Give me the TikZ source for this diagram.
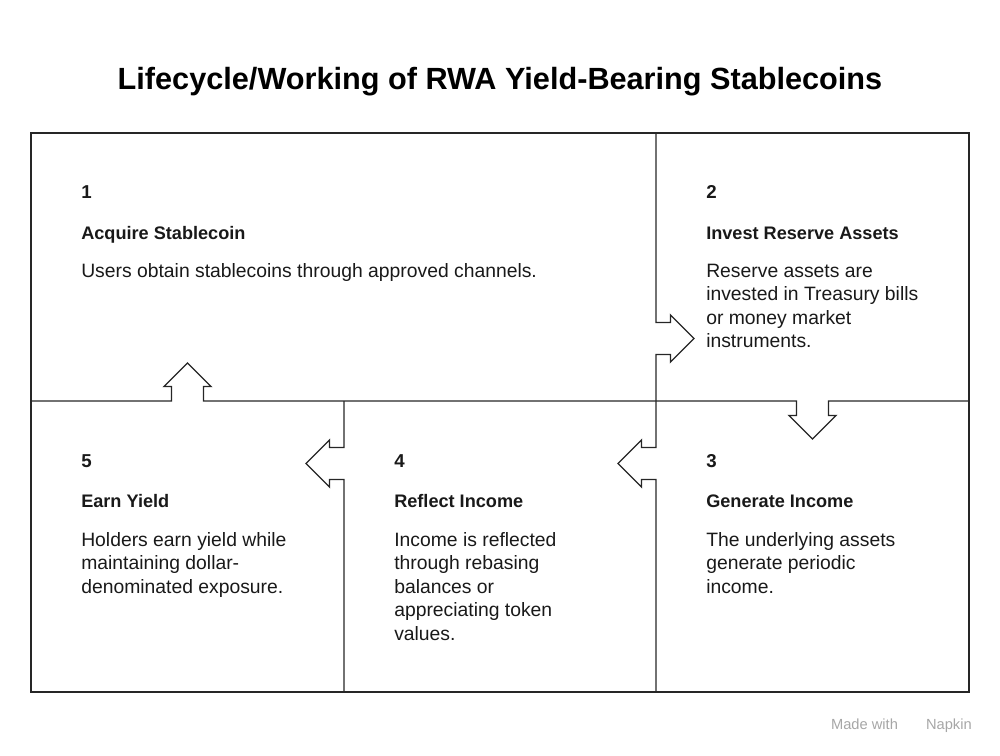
\documentclass[tikz,border=0pt]{standalone}
\usepackage{fontspec}
\setmainfont{Liberation Sans}
\begin{document}
\begin{tikzpicture}[x=0.75pt,y=-0.75pt,
  frame/.style={draw=black!85,line width=1pt,line join=miter},
  num/.style={anchor=base west,inner sep=0pt,font=\fontsize{14}{17}\selectfont\bfseries,text=black!90},
  head/.style={anchor=base west,inner sep=0pt,font=\fontsize{13.6}{17}\selectfont\bfseries,text=black!90},
  body/.style={anchor=base west,inner sep=0pt,align=left,font=\fontsize{14.5}{17.6}\selectfont,text=black!90}]
\useasboundingbox (0,0) rectangle (1000,756);
\node[inner sep=0pt,font=\fontsize{23}{28}\selectfont\bfseries] (title) at (500,82) {Lifecycle/Working of RWA Yield-Bearing Stablecoins};
% outer frame
\draw[frame] (31,133) rectangle (969,692);
% horizontal divider with up and down arrows
\draw[frame] (31,401) -- (171.5,401) -- (171.5,386.5) -- (164,386.5) -- (187.5,363) -- (211,386.5) -- (203.5,386.5) -- (203.5,401)
  -- (796.5,401) -- (796.5,415.5) -- (789,415.5) -- (812.5,439) -- (836,415.5) -- (828.5,415.5) -- (828.5,401) -- (969,401);
% right vertical divider
\draw[frame] (656,133) -- (656,322.5) -- (670.5,322.5) -- (670.5,315) -- (694,338.5) -- (670.5,362) -- (670.5,354.5) -- (656,354.5)
  -- (656,447.5) -- (641.5,447.5) -- (641.5,440) -- (618,463.5) -- (641.5,487) -- (641.5,479.5) -- (656,479.5) -- (656,692);
% left vertical divider
\draw[frame] (344,401) -- (344,447.5) -- (329.5,447.5) -- (329.5,440) -- (306,463.5) -- (329.5,487) -- (329.5,479.5) -- (344,479.5) -- (344,692);
% step 1
\node[num] (n1) at (81,199) {1};
\node[head] (h1) at (81,239) {Acquire Stablecoin};
\node[body] (b1) at (81,277) {Users obtain stablecoins through approved channels.};
% step 2
\node[num] (n2) at (706,199) {2};
\node[head] (h2) at (706,239) {Invest Reserve Assets};
\node[body] (b2) at (706,347.5) {Reserve assets are\\invested in Treasury bills\\or money market\\instruments.};
% step 3
\node[num] (n3) at (706,467.5) {3};
\node[head] (h3) at (706,507.5) {Generate Income};
\node[body] (b3) at (706,593) {The underlying assets\\generate periodic\\income.};
% step 4
\node[num] (n4) at (394,467.5) {4};
\node[head] (h4) at (394,507.5) {Reflect Income};
\node[body] (b4) at (394,640) {Income is reflected\\through rebasing\\balances or\\appreciating token\\values.};
% step 5
\node[num] (n5) at (81,467.5) {5};
\node[head] (h5) at (81,507.5) {Earn Yield};
\node[body] (b5) at (81,593) {Holders earn yield while\\maintaining dollar-\\denominated exposure.};
% watermark
\node[anchor=base east,inner sep=0pt,font=\fontsize{11}{12}\selectfont,text=black!35] (wm) at (972,729) {Made with \hspace{15pt} Napkin};
\end{tikzpicture}
\end{document}
